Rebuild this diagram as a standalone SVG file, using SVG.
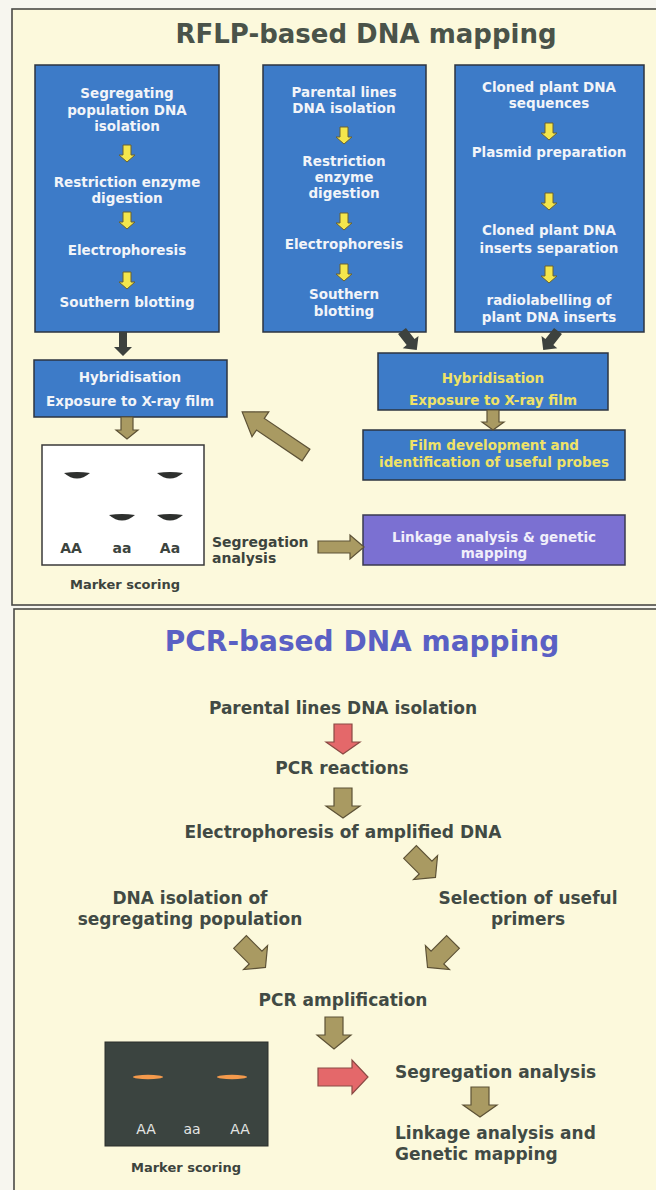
<svg xmlns="http://www.w3.org/2000/svg" width="656" height="1190" viewBox="0 0 656 1190">
<style>
text{font-family:"DejaVu Sans",Verdana,sans-serif;font-weight:bold;text-anchor:middle}
.panel{fill:#fcf9dc;stroke:#4a4a46;stroke-width:1.6}
.bx{fill:#3d7bc8;stroke:#2c3440;stroke-width:1.5}
.pb{fill:#7b70d2;stroke:#3a3a50;stroke-width:1.5}
.wt{fill:#f2f4f8;font-size:13.5px}
.yt{fill:#efe267;font-size:13.5px}
.dt{fill:#414a44;font-size:17px}
.st{fill:#3c443e;font-size:14px}
.ya{fill:#f4e64c;stroke:#6b6232;stroke-width:1}
.da{fill:#3d423e}
.ta{fill:#a99a62;stroke:#5d5236;stroke-width:1.2}
.ra{fill:#e4686a;stroke:#8a4a44;stroke-width:1.2}
.band{fill:#2e302e}
.ob{fill:#f49a4c}
</style>
<rect width="656" height="1190" fill="#f7f6ef"/>
<rect class="panel" x="12" y="9" width="660" height="596"/>
<rect class="panel" x="14" y="609" width="660" height="600"/>
<text x="366" y="43" style="font-size:26px;fill:#4a5349">RFLP-based DNA mapping</text>
<text x="362" y="651" style="font-size:28px;fill:#5a60c4">PCR-based DNA mapping</text>

<g id="box1">
<rect class="bx" x="35" y="65" width="184" height="267"/>
<text class="wt" x="127" y="98">Segregating</text>
<text class="wt" x="127" y="115">population DNA</text>
<text class="wt" x="127" y="131">isolation</text>
<text class="wt" x="127" y="187">Restriction enzyme</text>
<text class="wt" x="127" y="203">digestion</text>
<text class="wt" x="127" y="255">Electrophoresis</text>
<text class="wt" x="127" y="307">Southern blotting</text>
<path class="ya" transform="translate(127,145)" d="M-4,0H4V10H8L0,17L-8,10H-4Z"/>
<path class="ya" transform="translate(127,212)" d="M-4,0H4V10H8L0,17L-8,10H-4Z"/>
<path class="ya" transform="translate(127,272)" d="M-4,0H4V10H8L0,17L-8,10H-4Z"/>
</g>
<g id="box2">
<rect class="bx" x="263" y="65" width="163" height="267"/>
<text class="wt" x="344" y="97">Parental lines</text>
<text class="wt" x="344" y="113">DNA isolation</text>
<text class="wt" x="344" y="166">Restriction</text>
<text class="wt" x="344" y="182">enzyme</text>
<text class="wt" x="344" y="198">digestion</text>
<text class="wt" x="344" y="249">Electrophoresis</text>
<text class="wt" x="344" y="299">Southern</text>
<text class="wt" x="344" y="316">blotting</text>
<path class="ya" transform="translate(344,127)" d="M-4,0H4V10H8L0,17L-8,10H-4Z"/>
<path class="ya" transform="translate(344,213)" d="M-4,0H4V10H8L0,17L-8,10H-4Z"/>
<path class="ya" transform="translate(344,264)" d="M-4,0H4V10H8L0,17L-8,10H-4Z"/>
</g>
<g id="box3">
<rect class="bx" x="455" y="65" width="189" height="267"/>
<text class="wt" x="549" y="92">Cloned plant DNA</text>
<text class="wt" x="549" y="108">sequences</text>
<text class="wt" x="549" y="157">Plasmid preparation</text>
<text class="wt" x="549" y="235">Cloned plant DNA</text>
<text class="wt" x="549" y="253">inserts separation</text>
<text class="wt" x="549" y="305">radiolabelling of</text>
<text class="wt" x="549" y="322">plant DNA inserts</text>
<path class="ya" transform="translate(549,123)" d="M-4,0H4V10H8L0,17L-8,10H-4Z"/>
<path class="ya" transform="translate(549,193)" d="M-4,0H4V10H8L0,17L-8,10H-4Z"/>
<path class="ya" transform="translate(549,266)" d="M-4,0H4V10H8L0,17L-8,10H-4Z"/>
</g>
<g id="hyb-left">
<rect class="bx" x="34" y="360" width="193" height="57"/>
<text class="wt" x="130" y="382">Hybridisation</text>
<text class="wt" x="130" y="406">Exposure to X-ray film</text>
</g>
<g id="hyb-right">
<rect class="bx" x="378" y="353" width="230" height="57"/>
<text class="yt" x="493" y="383">Hybridisation</text>
<text class="yt" x="493" y="405">Exposure to X-ray film</text>
</g>
<g id="film">
<rect class="bx" x="363" y="430" width="262" height="50"/>
<text class="yt" x="494" y="450">Film development and</text>
<text class="yt" x="494" y="467">identification of useful probes</text>
</g>
<g id="linkage">
<rect class="pb" x="363" y="515" width="262" height="50"/>
<text class="wt" x="494" y="542" style="fill:#f0eefa">Linkage analysis &amp; genetic</text>
<text class="wt" x="494" y="558" style="fill:#f0eefa">mapping</text>
</g>
<g id="gel-rflp">
<rect x="42" y="445" width="162" height="120" fill="#ffffff" stroke="#3a3a3a" stroke-width="1.5"/>
<path class="band" d="M64,473Q77,471 90,473Q77,484 64,473Z"/>
<path class="band" d="M157,473Q170,471 183,473Q170,484 157,473Z"/>
<path class="band" d="M109,515Q122,513 135,515Q122,526 109,515Z"/>
<path class="band" d="M157,515Q170,513 183,515Q170,526 157,515Z"/>
<text class="st" x="71" y="553">AA</text>
<text class="st" x="122" y="553">aa</text>
<text class="st" x="170" y="553">Aa</text>
<text class="st" x="125" y="589" style="font-size:13px">Marker scoring</text>
</g>
<g id="seg-rflp">
<text class="st" x="212" y="547" style="text-anchor:start">Segregation</text>
<text class="st" x="212" y="563" style="text-anchor:start">analysis</text>
</g>

<g id="pcr-nodes">
<text class="dt" x="343" y="714">Parental lines DNA isolation</text>
<text class="dt" x="342" y="774">PCR reactions</text>
<text class="dt" x="343" y="838">Electrophoresis of amplified DNA</text>
<text class="dt" x="190" y="904">DNA isolation of</text>
<text class="dt" x="190" y="925">segregating population</text>
<text class="dt" x="528" y="904">Selection of useful</text>
<text class="dt" x="528" y="925">primers</text>
<text class="dt" x="343" y="1006">PCR amplification</text>
<text class="dt" x="395" y="1078" style="text-anchor:start">Segregation analysis</text>
<text class="dt" x="395" y="1139" style="text-anchor:start">Linkage analysis and</text>
<text class="dt" x="395" y="1160" style="text-anchor:start">Genetic mapping</text>
</g>
<g id="gel-pcr">
<rect x="105" y="1042" width="163" height="104" fill="#3b4440" stroke="#2a2e2a" stroke-width="1"/>
<ellipse class="ob" cx="148" cy="1077" rx="15" ry="2.2"/>
<ellipse class="ob" cx="232" cy="1077" rx="15" ry="2.2"/>
<text x="146" y="1134" style="font-size:14px;font-weight:normal;fill:#e4e6e4">AA</text>
<text x="192" y="1134" style="font-size:14px;font-weight:normal;fill:#e4e6e4">aa</text>
<text x="240" y="1134" style="font-size:14px;font-weight:normal;fill:#e4e6e4">AA</text>
<text x="186" y="1172" style="font-size:13px;fill:#3c443e">Marker scoring</text>
</g>

<g id="connectors">
<path class="da" transform="translate(123,332)" d="M-4,0H4V15H9L0,24L-9,15H-4Z"/>
<path class="da" transform="translate(402,331) rotate(-38)" d="M-5,0H5V14H10L0,24L-10,14H-5Z"/>
<path class="da" transform="translate(558,331) rotate(38)" d="M-5,0H5V14H10L0,24L-10,14H-5Z"/>
<path class="ta" transform="translate(127,417)" d="M-6,0H6V13H11L0,22L-11,13H-6Z"/>
<path class="ta" transform="translate(493,410)" d="M-6,0H6V12H11L0,20L-11,12H-6Z"/>
<path class="ta" transform="translate(306,455) rotate(124)" d="M-7,0H7V55H15L0,77L-15,55H-7Z"/>
<path class="ta" transform="translate(318,547) rotate(-90)" d="M-6,0H6V32H12L0,46L-12,32H-6Z"/>
<path class="ra" transform="translate(343,724)" d="M-9,0H9V18H17L0,30L-17,18H-9Z"/>
<path class="ta" transform="translate(343,788)" d="M-9,0H9V18H17L0,30L-17,18H-9Z"/>
<path class="ta" transform="translate(410,852) rotate(-45)" d="M-9,0H9V22H17L0,36L-17,22H-9Z"/>
<path class="ta" transform="translate(240,942) rotate(-45)" d="M-9,0H9V22H17L0,36L-17,22H-9Z"/>
<path class="ta" transform="translate(453,942) rotate(45)" d="M-9,0H9V22H17L0,36L-17,22H-9Z"/>
<path class="ta" transform="translate(334,1017)" d="M-9,0H9V18H17L0,32L-17,18H-9Z"/>
<path class="ra" transform="translate(318,1077) rotate(-90)" d="M-9,0H9V34H17L0,50L-17,34H-9Z"/>
<path class="ta" transform="translate(480,1087)" d="M-9,0H9V18H17L0,30L-17,18H-9Z"/>
</g>
</svg>
